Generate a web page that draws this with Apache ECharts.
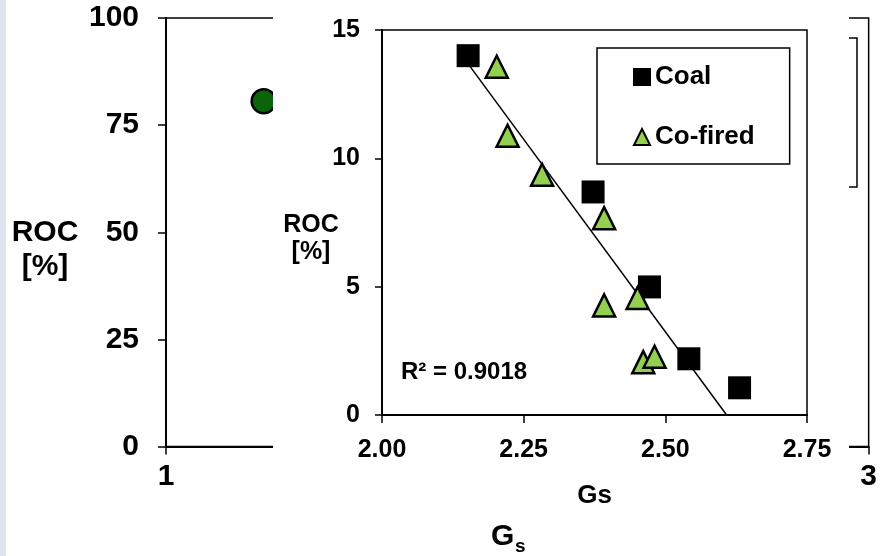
<!DOCTYPE html>
<html><head><meta charset="utf-8">
<script src="https://cdn.jsdelivr.net/npm/echarts@6/dist/echarts.min.js"></script>
<style>html,body{margin:0;padding:0;background:#fff}#c{width:880px;height:556px}</style>
</head><body><div id="c"></div>
<script>
// ---- data ----
const outerGs = [1.278];
const outerROC = [80.6];
const coalGs = [2.152, 2.3725, 2.472, 2.5415, 2.631];
const coalROC = [14.0, 8.69, 4.99, 2.19, 1.06];
const cofiredGs = [2.2025, 2.2216, 2.2825, 2.392, 2.392, 2.451, 2.461, 2.481];
const cofiredROC = [13.57, 10.88, 9.36, 7.67, 4.27, 4.56, 2.06, 2.27];
const seriesNames = ['Coal', 'Co-fired'];
const outerYLabel = 'ROC\n[%]';
const innerYLabel = 'ROC\n[%]';
const innerXLabel = 'Gs';
const outerXLabelMain = 'G';
const outerXLabelSub = 's';
const r2Label = 'R² = 0.9018';

// ---- linear trendline from all points ----
const allX = coalGs.concat(cofiredGs), allY = coalROC.concat(cofiredROC);
const n = allX.length;
const mx = allX.reduce((a, b) => a + b, 0) / n;
const my = allY.reduce((a, b) => a + b, 0) / n;
let sxy = 0, sxx = 0;
for (let i = 0; i < n; i++) { sxy += (allX[i] - mx) * (allY[i] - my); sxx += (allX[i] - mx) ** 2; }
const slope = sxy / sxx, icpt = my - slope * mx;
const xStart = Math.min(...allX);
const xEnd = Math.min(Math.max(...allX), -icpt / slope);
const trend = [[xStart, slope * xStart + icpt], [xEnd, slope * xEnd + icpt]];

const FF = '"Liberation Sans", Arial, sans-serif';
const lbl = (size) => ({ color: '#000', fontWeight: 'bold', fontSize: size, fontFamily: FF });

const chart = echarts.init(document.getElementById('c'), null, { renderer: 'canvas' });
chart.setOption({
  animation: false,
  backgroundColor: '#fff',
  grid: [
    { left: 166, top: 18, right: 7, bottom: 109.5, show: true, borderColor: '#000', borderWidth: 1.5, z: 0 },
    { left: 382, top: 30, right: 73, bottom: 141, show: true, borderColor: '#000', borderWidth: 1.5, z: 4 }
  ],
  xAxis: [
    { type: 'value', gridIndex: 0, min: 1, max: 3, interval: 1, z: 0,
      axisLine: { onZero: false, lineStyle: { color: '#000', width: 2 } },
      axisTick: { show: true, inside: false, length: 8, lineStyle: { color: '#000', width: 1.5 } },
      splitLine: { show: false },
      axisLabel: Object.assign(lbl(30), { margin: 15, showMinLabel: true, showMaxLabel: true }) },
    { type: 'value', gridIndex: 1, min: 2, max: 2.75, interval: 0.25, z: 4,
      axisLine: { onZero: false, lineStyle: { color: '#000', width: 2 } },
      axisTick: { show: true, inside: false, length: 8, lineStyle: { color: '#000', width: 1.5 } },
      splitLine: { show: false },
      axisLabel: Object.assign(lbl(25), { margin: 23, formatter: v => v.toFixed(2), showMinLabel: true, showMaxLabel: true }),
      name: innerXLabel, nameLocation: 'middle', nameGap: 68,
      nameTextStyle: lbl(26) }
  ],
  yAxis: [
    { type: 'value', gridIndex: 0, min: 0, max: 100, interval: 25, z: 0,
      axisLine: { onZero: false, lineStyle: { color: '#000', width: 2 } },
      axisTick: { show: true, inside: false, length: 8, lineStyle: { color: '#000', width: 1.5 } },
      splitLine: { show: false },
      axisLabel: Object.assign(lbl(30), { margin: 27 }) },
    { type: 'value', gridIndex: 1, min: 0, max: 15, interval: 5, z: 4,
      axisLine: { onZero: false, lineStyle: { color: '#000', width: 2 } },
      axisTick: { show: true, inside: false, length: 7, lineStyle: { color: '#000', width: 1.5 } },
      splitLine: { show: false },
      axisLabel: Object.assign(lbl(25), { margin: 22 }) }
  ],
  legend: {
    data: seriesNames, orient: 'vertical', left: 597, top: 48,
    padding: [16, 35, 14, 36], itemGap: 34, itemWidth: 16, itemHeight: 16, itemTextGap: 6,
    borderColor: '#000', borderWidth: 1.5, backgroundColor: '#fff', z: 7,
    itemStyle: { borderWidth: 2, opacity: 1 },
    textStyle: Object.assign(lbl(26), { lineHeight: 26 })
  },
  graphic: [
    { type: 'rect', z: 0, shape: { x: 0, y: 0, width: 6, height: 556 }, style: { fill: '#dfe3eb' } },
    { type: 'rect', z: 1, shape: { x: 600, y: 38, width: 257, height: 149 }, style: { fill: 'none', stroke: '#000', lineWidth: 1.5 } },
    { type: 'rect', z: 3, shape: { x: 273, y: 0, width: 576, height: 515 }, style: { fill: '#fff' } },
    { type: 'text', z: 3, style: { text: outerYLabel, x: 45, y: 250, textAlign: 'center', textVerticalAlign: 'middle', fill: '#000', font: 'bold 30px ' + FF, lineHeight: 34 } },
    { type: 'text', z: 3, style: { text: outerXLabelMain, x: 491, y: 537, textAlign: 'left', textVerticalAlign: 'middle', fill: '#000', font: 'bold 30px ' + FF } },
    { type: 'text', z: 3, style: { text: outerXLabelSub, x: 515, y: 547, textAlign: 'left', textVerticalAlign: 'middle', fill: '#000', font: 'bold 19px ' + FF } },
    { type: 'text', z: 5, style: { text: innerYLabel, x: 311, y: 239, textAlign: 'center', textVerticalAlign: 'middle', fill: '#000', font: 'bold 25px ' + FF, lineHeight: 27 } },
    { type: 'text', z: 5, style: { text: r2Label, x: 401, y: 372, textAlign: 'left', textVerticalAlign: 'middle', fill: '#000', font: 'bold 24px ' + FF } }
  ],
  series: [
    { type: 'scatter', name: 'outer', xAxisIndex: 0, yAxisIndex: 0, z: 2,
      symbol: 'circle', symbolSize: 24,
      itemStyle: { color: '#0a640a', borderColor: '#000', borderWidth: 2.5, opacity: 1 },
      data: outerGs.map((x, i) => [x, outerROC[i]]) },
    { type: 'line', name: 'trend', xAxisIndex: 1, yAxisIndex: 1, z: 5,
      symbol: 'none', lineStyle: { color: '#000', width: 1.5 }, data: trend },
    { type: 'scatter', name: seriesNames[0], xAxisIndex: 1, yAxisIndex: 1, z: 6,
      symbol: 'rect', symbolSize: 23,
      itemStyle: { color: '#000', borderColor: '#000', borderWidth: 0, opacity: 1 },
      data: coalGs.map((x, i) => [x, coalROC[i]]) },
    { type: 'scatter', name: seriesNames[1], xAxisIndex: 1, yAxisIndex: 1, z: 6,
      symbol: 'triangle', symbolSize: 22,
      itemStyle: { color: '#92d050', borderColor: '#000', borderWidth: 2.5, opacity: 1 },
      data: cofiredGs.map((x, i) => [x, cofiredROC[i]]) }
  ]
});
</script></body></html>
